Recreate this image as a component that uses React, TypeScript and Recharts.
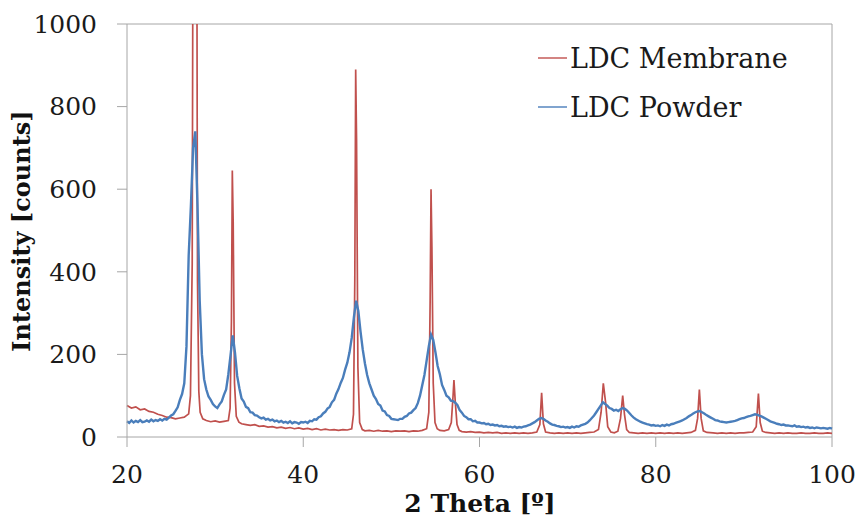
import { LineChart, Line, XAxis, YAxis, ReferenceLine } from 'recharts'

// 2 Theta [deg] / counts (membrane = red, powder = blue)
const membraneScan: [number, number][] = [
  [20, 76], [20.5, 70], [21, 73], [21.5, 66], [22, 68], [22.5, 62], [23, 60], [23.5, 55], [24, 52], [24.5, 48],
  [25, 47], [25.5, 44], [26, 46], [26.5, 48], [27, 56], [27.2, 100], [27.4, 420], [27.5, 1400], [27.7, 1700], [27.9, 1500],
  [28, 380], [28.15, 110], [28.3, 60], [28.6, 44], [29, 40], [29.5, 37], [30, 39], [30.5, 36], [31, 38], [31.5, 40],
  [31.7, 70], [31.85, 280], [31.95, 645], [32.05, 520], [32.2, 130], [32.4, 50], [32.7, 36], [33, 32], [33.5, 30], [34, 28],
  [34.5, 30], [35, 26], [35.5, 27], [36, 24], [36.5, 25], [37, 22], [37.5, 24], [38, 21], [38.5, 23], [39, 20],
  [39.5, 22], [40, 19], [40.5, 21], [41, 18], [41.5, 20], [42, 17], [42.5, 19], [43, 17], [43.5, 18], [44, 16],
  [44.5, 18], [45, 17], [45.5, 20], [45.7, 55], [45.85, 380], [45.95, 890], [46.05, 720], [46.2, 170], [46.4, 35], [46.7, 18],
  [47, 15], [47.5, 16], [48, 14], [48.5, 16], [49, 14], [49.5, 15], [50, 13], [50.5, 15], [51, 14], [51.5, 15],
  [52, 13], [52.5, 15], [53, 14], [53.5, 16], [54, 20], [54.25, 60], [54.4, 330], [54.5, 600], [54.6, 460], [54.75, 130],
  [54.95, 35], [55.2, 20], [55.5, 16], [56, 15], [56.5, 18], [56.8, 35], [57, 100], [57.1, 138], [57.25, 85], [57.45, 30],
  [57.7, 16], [58, 13], [58.5, 12], [59, 13], [59.5, 11], [60, 12], [60.5, 10], [61, 11], [61.5, 10], [62, 11],
  [62.5, 9], [63, 10], [63.5, 9], [64, 10], [64.5, 9], [65, 10], [65.5, 9], [66, 10], [66.5, 12], [66.85, 30],
  [67.05, 107], [67.25, 32], [67.5, 12], [68, 10], [68.5, 9], [69, 10], [69.5, 9], [70, 10], [70.5, 9], [71, 10],
  [71.5, 9], [72, 10], [72.5, 11], [73, 12], [73.5, 18], [73.8, 60], [74.05, 130], [74.3, 85], [74.55, 25], [74.9, 12],
  [75.3, 10], [75.7, 14], [76, 45], [76.25, 100], [76.45, 55], [76.7, 18], [77, 11], [77.5, 10], [78, 9], [78.5, 10],
  [79, 9], [79.5, 10], [80, 9], [80.5, 10], [81, 9], [81.5, 10], [82, 9], [82.5, 10], [83, 9], [83.5, 10],
  [84, 11], [84.5, 16], [84.75, 45], [84.95, 115], [85.15, 45], [85.4, 15], [85.8, 11], [86.5, 10], [87, 9], [87.5, 10],
  [88, 9], [88.5, 10], [89, 9], [89.5, 10], [90, 10], [90.5, 11], [91, 12], [91.4, 25], [91.65, 105], [91.85, 35],
  [92.1, 14], [92.5, 11], [93, 10], [93.5, 9], [94, 10], [94.5, 9], [95, 10], [95.5, 9], [96, 9], [96.5, 10],
  [97, 9], [97.5, 9], [98, 10], [98.5, 9], [99, 9], [99.5, 10], [100, 9],
]

const powderScan: [number, number][] = [
  [20, 38], [20.25, 34], [20.5, 40], [20.75, 35], [21, 39], [21.25, 36], [21.5, 41], [21.75, 36], [22, 37], [22.25, 40],
  [22.5, 37], [22.75, 42], [23, 38], [23.25, 41], [23.5, 39], [23.75, 43], [24, 40], [24.25, 44], [24.5, 42], [24.75, 47],
  [25, 52], [25.25, 55], [25.5, 63], [25.75, 72], [26, 90], [26.25, 104], [26.5, 130], [26.75, 220], [27, 440], [27.25, 560],
  [27.5, 700], [27.75, 740], [28, 560], [28.25, 330], [28.5, 200], [28.75, 140], [29, 115], [29.25, 98], [29.5, 90], [29.75, 80],
  [30, 74], [30.25, 70], [30.5, 79], [30.75, 86], [31, 102], [31.25, 115], [31.5, 152], [31.75, 198], [32, 246], [32.25, 205],
  [32.5, 148], [32.75, 118], [33, 93], [33.25, 86], [33.5, 73], [33.75, 70], [34, 60], [34.25, 59], [34.5, 53], [34.75, 52],
  [35, 48], [35.25, 45], [35.5, 47], [35.75, 42], [36, 44], [36.25, 40], [36.5, 42], [36.75, 38], [37, 40], [37.25, 36],
  [37.5, 39], [37.75, 35], [38, 37], [38.25, 34], [38.5, 38], [38.75, 33], [39, 36], [39.25, 35], [39.5, 32], [39.75, 36],
  [40, 35], [40.25, 37], [40.5, 34], [40.75, 39], [41, 38], [41.25, 43], [41.5, 42], [41.75, 48], [42, 50], [42.25, 57],
  [42.5, 61], [42.75, 69], [43, 73], [43.25, 84], [43.5, 90], [43.75, 105], [44, 116], [44.25, 131], [44.5, 143], [44.75, 163],
  [45, 180], [45.25, 205], [45.5, 240], [45.75, 290], [46, 330], [46.25, 305], [46.5, 255], [46.75, 212], [47, 178], [47.25, 150],
  [47.5, 130], [47.75, 115], [48, 100], [48.25, 92], [48.5, 80], [48.75, 76], [49, 64], [49.25, 62], [49.5, 53], [49.75, 51],
  [50, 44], [50.25, 43], [50.5, 42], [50.75, 41], [51, 44], [51.25, 44], [51.5, 49], [51.75, 51], [52, 57], [52.25, 59],
  [52.5, 65], [52.75, 70], [53, 82], [53.25, 100], [53.5, 125], [53.75, 150], [54, 185], [54.25, 220], [54.5, 248], [54.75, 235],
  [55, 205], [55.25, 172], [55.5, 152], [55.75, 126], [56, 114], [56.25, 100], [56.5, 96], [56.75, 88], [57, 87], [57.25, 83],
  [57.5, 77], [57.75, 65], [58, 59], [58.25, 51], [58.5, 48], [58.75, 43], [59, 43], [59.25, 38], [59.5, 39], [59.75, 35],
  [60, 35], [60.25, 33], [60.5, 34], [60.75, 31], [61, 32], [61.25, 29], [61.5, 30], [61.75, 28], [62, 29], [62.25, 26],
  [62.5, 27], [62.75, 25], [63, 26], [63.25, 24], [63.5, 25], [63.75, 23], [64, 25], [64.25, 22], [64.5, 24], [64.75, 23],
  [65, 25], [65.25, 26], [65.5, 28], [65.75, 30], [66, 33], [66.25, 36], [66.5, 40], [66.75, 44], [67, 46], [67.25, 44],
  [67.5, 40], [67.75, 37], [68, 33], [68.25, 30], [68.5, 29], [68.75, 27], [69, 26], [69.25, 24], [69.5, 25], [69.75, 23],
  [70, 24], [70.25, 22], [70.5, 25], [70.75, 23], [71, 26], [71.25, 25], [71.5, 28], [71.75, 30], [72, 32], [72.25, 35],
  [72.5, 40], [72.75, 46], [73, 52], [73.25, 60], [73.5, 68], [73.75, 76], [74, 84], [74.25, 80], [74.5, 76], [74.75, 70],
  [75, 68], [75.25, 64], [75.5, 66], [75.75, 63], [76, 67], [76.25, 70], [76.5, 68], [76.75, 64], [77, 58], [77.25, 52],
  [77.5, 47], [77.75, 43], [78, 40], [78.25, 37], [78.5, 35], [78.75, 33], [79, 31], [79.25, 30], [79.5, 28], [79.75, 29],
  [80, 27], [80.25, 28], [80.5, 26], [80.75, 29], [81, 27], [81.25, 30], [81.5, 28], [81.75, 31], [82, 32], [82.25, 34],
  [82.5, 36], [82.75, 38], [83, 40], [83.25, 43], [83.5, 46], [83.75, 50], [84, 53], [84.25, 57], [84.5, 60], [84.75, 62],
  [85, 63], [85.25, 60], [85.5, 57], [85.75, 53], [86, 50], [86.25, 47], [86.5, 44], [86.75, 41], [87, 40], [87.25, 38],
  [87.5, 37], [87.75, 36], [88, 35], [88.25, 36], [88.5, 37], [88.75, 38], [89, 39], [89.25, 41], [89.5, 43], [89.75, 45],
  [90, 46], [90.25, 48], [90.5, 50], [90.75, 51], [91, 53], [91.25, 55], [91.5, 54], [91.75, 52], [92, 50], [92.25, 47],
  [92.5, 44], [92.75, 41], [93, 38], [93.25, 36], [93.5, 34], [93.75, 32], [94, 31], [94.25, 29], [94.5, 30], [94.75, 28],
  [95, 28], [95.25, 27], [95.5, 26], [95.75, 28], [96, 25], [96.25, 26], [96.5, 24], [96.75, 25], [97, 23], [97.25, 24],
  [97.5, 22], [97.75, 23], [98, 21], [98.25, 23], [98.5, 22], [98.75, 21], [99, 22], [99.5, 20], [99.75, 22], [100, 20],
]

const xTicks = [20, 40, 60, 80, 100]
const yTicks = [0, 200, 400, 600, 800, 1000]

const membraneData = membraneScan.map(([theta, counts]) => ({ theta, counts }))
const powderData = powderScan.map(([theta, counts]) => ({ theta, counts }))

const RED = '#c0504d'
const BLUE = '#4a7ebb'
const AXIS = '#a6a6a6'
const FONT = '"DejaVu Serif", serif'

export default function App() {
  const tickStyle = { fontFamily: FONT, fontSize: 25, fill: '#1a1a1a' }
  return (
    <div style={{ position: 'absolute', left: 0, top: 0, width: 860, height: 522, background: '#fff' }}>
      <LineChart width={860} height={522} margin={{ top: 24, right: 28, bottom: 0, left: 0 }}>
        <XAxis
          type="number"
          dataKey="theta"
          domain={[20, 100]}
          ticks={xTicks}
          allowDuplicatedCategory={false}
          stroke={AXIS}
          tickSize={10}
          tickMargin={18}
          height={85}
          tick={tickStyle}
        />
        <YAxis
          type="number"
          dataKey="counts"
          domain={[0, 1000]}
          ticks={yTicks}
          allowDataOverflow
          stroke={AXIS}
          tickSize={10}
          tickMargin={20}
          width={127}
          tick={tickStyle}
        />
        <ReferenceLine y={1000} stroke={AXIS} strokeWidth={1} />
        <ReferenceLine x={100} stroke={AXIS} strokeWidth={1} />
        <Line
          data={membraneData}
          dataKey="counts"
          name="LDC Membrane"
          stroke={RED}
          strokeWidth={1.7}
          dot={false}
          type="linear"
          isAnimationActive={false}
        />
        <Line
          data={powderData}
          dataKey="counts"
          name="LDC Powder"
          stroke={BLUE}
          strokeWidth={2.4}
          dot={false}
          type="linear"
          isAnimationActive={false}
        />
      </LineChart>

      {/* legend */}
      <div style={{ position: 'absolute', left: 538, top: 40, fontFamily: FONT, fontSize: 27, color: '#1a1a1a' }}>
        {[
          { label: 'LDC Membrane', color: RED },
          { label: 'LDC Powder', color: BLUE },
        ].map((item) => (
          <div key={item.label} style={{ display: 'flex', alignItems: 'center', height: 36, marginBottom: 13 }}>
            <span style={{ display: 'inline-block', width: 29, height: 2, background: item.color, opacity: 0.7, marginRight: 3 }} />
            <span>{item.label}</span>
          </div>
        ))}
      </div>

      {/* axis titles */}
      <div
        style={{
          position: 'absolute',
          left: 330,
          width: 300,
          top: 489,
          textAlign: 'center',
          fontFamily: FONT,
          fontWeight: 'bold',
          fontSize: 25,
          color: '#111',
        }}
      >
        2 Theta [º]
      </div>
      <div
        style={{
          position: 'absolute',
          left: 22 - 150,
          top: 231 - 15,
          width: 300,
          height: 30,
          lineHeight: '30px',
          textAlign: 'center',
          transform: 'rotate(-90deg)',
          fontFamily: FONT,
          fontWeight: 'bold',
          fontSize: 24,
          color: '#111',
        }}
      >
        Intensity [counts]
      </div>
    </div>
  )
}
